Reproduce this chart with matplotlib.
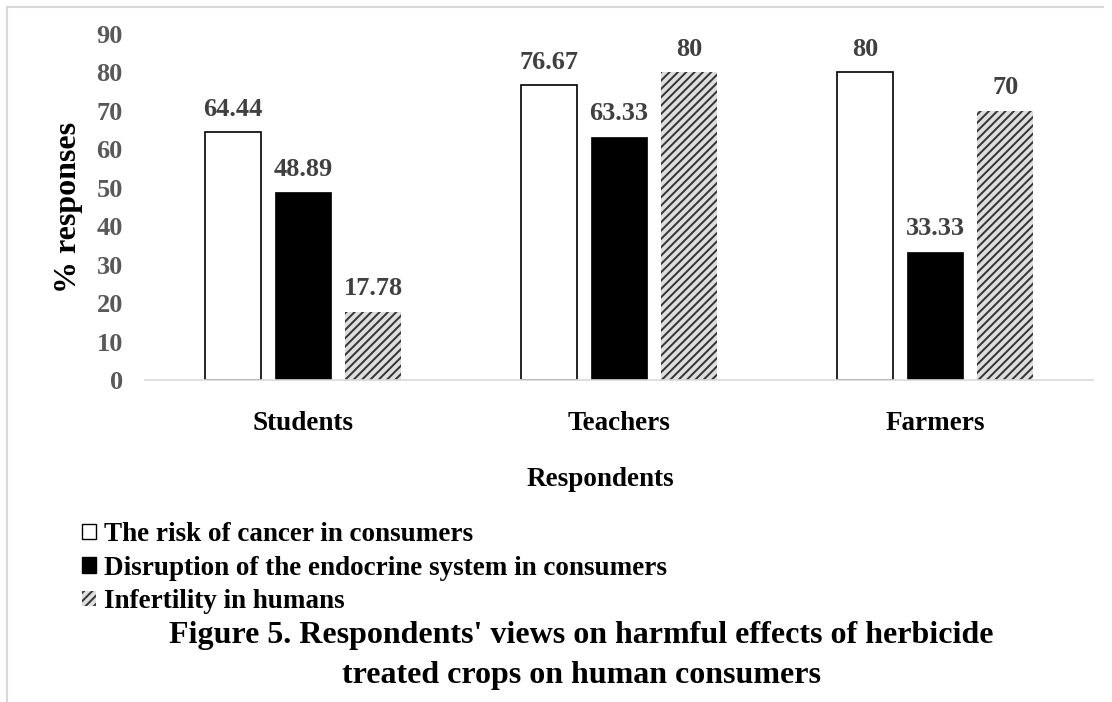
import matplotlib
matplotlib.use("Agg")
import matplotlib.pyplot as plt
import matplotlib.patches as mpatches
import numpy as np

# données
categories = ["Students", "Teachers", "Farmers"]
series_names = [
    "The risk of cancer in consumers",
    "Disruption of the endocrine system in consumers",
    "Infertility in humans",
]
cancer = [64.44, 76.67, 80]
endocrine = [48.89, 63.33, 33.33]
infertility = [17.78, 80, 70]
value_labels = [
    ["64.44", "76.67", "80"],
    ["48.89", "63.33", "33.33"],
    ["17.78", "80", "70"],
]
yticks = [0, 10, 20, 30, 40, 50, 60, 70, 80, 90]

plt.rcParams["font.family"] = ["Liberation Serif", "DejaVu Serif"]
plt.rcParams["font.weight"] = "bold"
plt.rcParams["hatch.linewidth"] = 1.4

HATCH = "////"
W, H = 1112, 702

fig = plt.figure(figsize=(11.12, 7.02), dpi=100)
ax = fig.add_axes([145 / W, 1 - 380 / H, 948 / W, 346 / H])

x = np.arange(len(categories))
width = 0.178
step = 0.222
styles = [
    dict(color="white", edgecolor="black", linewidth=1.2),
    dict(color="black", edgecolor="black", linewidth=0.5),
    dict(color="#dedede", edgecolor="#333333", linewidth=0, hatch=HATCH),
]
all_values = [cancer, endocrine, infertility]

for i, (values, st) in enumerate(zip(all_values, styles)):
    pos = x + (i - 1) * step
    ax.bar(pos, values, width, **st)
    for px, v, lab in zip(pos, values, value_labels[i]):
        ax.text(px, v + 3.0, lab, ha="center", va="bottom", fontsize=19,
                fontweight="bold", color="#404040")

ax.set_xlim(-0.5, 2.5)
ax.set_ylim(0, 90)
ax.set_yticks(yticks)
ax.set_yticklabels([str(t) for t in yticks], fontsize=19, fontweight="bold", color="#595959")
ax.set_xticks(x)
ax.set_xticklabels(categories, fontsize=19.5, fontweight="bold", color="black")
ax.tick_params(axis="both", length=0)
ax.tick_params(axis="y", pad=16)
ax.tick_params(axis="x", pad=22)
for s in ["top", "right", "left"]:
    ax.spines[s].set_visible(False)
ax.spines["bottom"].set_color("#d9d9d9")
ax.spines["bottom"].set_linewidth(1.2)

ax.set_ylabel("% responses", fontsize=23, fontweight="bold", labelpad=10)
fig.text(600 / W, 1 - 480 / H, "Respondents", ha="center", va="center",
         fontsize=19.5, fontweight="bold")

# légende
handles = [
    mpatches.Patch(facecolor="white", edgecolor="black", linewidth=1),
    mpatches.Patch(facecolor="black", edgecolor="black"),
    mpatches.Patch(facecolor="#dedede", edgecolor="#333333", linewidth=0, hatch=HATCH),
]
fig.legend(handles, series_names, loc="upper left", bbox_to_anchor=(82 / W, 1 - 522 / H),
           frameon=False, prop={"weight": "bold", "size": 19.5},
           handlelength=0.5, handleheight=0.5, handletextpad=0.3, labelspacing=0.32,
           borderpad=0, borderaxespad=0)

fig.text(581 / W, 1 - 636 / H,
         "Figure 5. Respondents' views on harmful effects of herbicide",
         ha="center", va="center", fontsize=23, fontweight="bold")
fig.text(581 / W, 1 - 675 / H, "treated crops on human consumers",
         ha="center", va="center", fontsize=23, fontweight="bold")

# cadre gris clair en haut et à gauche
fig.add_artist(plt.Line2D([7 / W, 1103 / W], [1 - 7 / H, 1 - 7 / H], color="#d9d9d9", lw=1.5))
fig.add_artist(plt.Line2D([7 / W, 7 / W], [0, 1 - 7 / H], color="#d9d9d9", lw=1.5))

fig.savefig("out.png", dpi=100)
